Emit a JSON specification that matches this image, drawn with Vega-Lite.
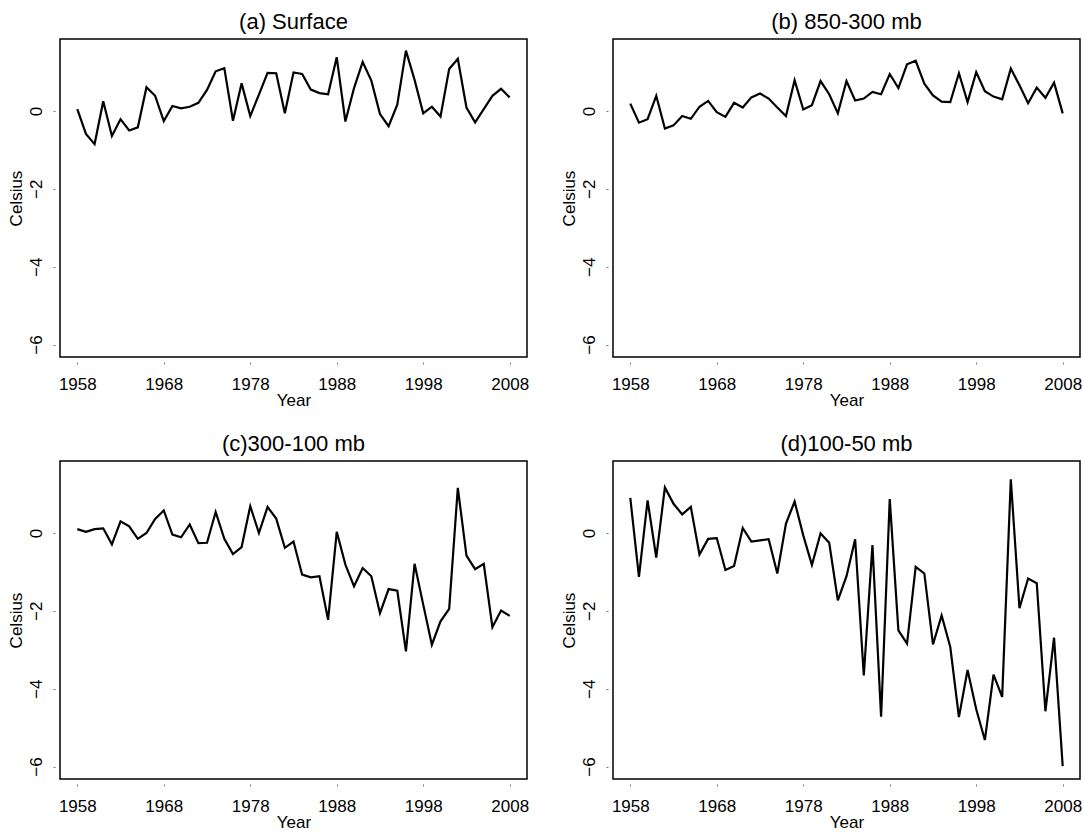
{
  "$schema": "https://vega.github.io/schema/vega-lite/v6.json",
  "background": "white",
  "padding": {"left": 6, "top": 10, "right": 5, "bottom": 5},
  "bounds": "flush",
  "columns": 2,
  "spacing": {"row": 104, "column": 86},
  "config": {
    "font": "Liberation Sans",
    "view": {"stroke": "black", "strokeWidth": 1.5},
    "axis": {"domain": false, "grid": false, "labelFont": "Liberation Sans", "labelFontSize": 17, "labelColor": "black", "titleFont": "Liberation Sans", "titleFontSize": 17, "titleFontWeight": "normal", "titleColor": "black", "tickColor": "#777", "tickSize": 2, "offset": 5},
    "axisX": {"labelPadding": 12, "titlePadding": 0},
    "axisY": {"labelAngle": -90, "labelPadding": 8, "titlePadding": 2},
    "title": {"font": "Liberation Sans", "fontSize": 22, "fontWeight": "normal", "color": "black", "anchor": "middle", "offset": 5, "baseline": "alphabetic"}
  },
  "datasets": {
    "a": [
      {"Year":1958,"Celsius":0.05},{"Year":1959,"Celsius":-0.59},{"Year":1960,"Celsius":-0.85},{"Year":1961,"Celsius":0.25},{"Year":1962,"Celsius":-0.64},{"Year":1963,"Celsius":-0.21},{"Year":1964,"Celsius":-0.50},{"Year":1965,"Celsius":-0.42},{"Year":1966,"Celsius":0.61},{"Year":1967,"Celsius":0.39},
      {"Year":1968,"Celsius":-0.26},{"Year":1969,"Celsius":0.13},{"Year":1970,"Celsius":0.07},{"Year":1971,"Celsius":0.11},{"Year":1972,"Celsius":0.21},{"Year":1973,"Celsius":0.54},{"Year":1974,"Celsius":1.02},{"Year":1975,"Celsius":1.10},{"Year":1976,"Celsius":-0.25},{"Year":1977,"Celsius":0.71},
      {"Year":1978,"Celsius":-0.13},{"Year":1979,"Celsius":0.42},{"Year":1980,"Celsius":0.98},{"Year":1981,"Celsius":0.97},{"Year":1982,"Celsius":-0.06},{"Year":1983,"Celsius":0.99},{"Year":1984,"Celsius":0.95},{"Year":1985,"Celsius":0.55},{"Year":1986,"Celsius":0.46},{"Year":1987,"Celsius":0.43},
      {"Year":1988,"Celsius":1.38},{"Year":1989,"Celsius":-0.27},{"Year":1990,"Celsius":0.59},{"Year":1991,"Celsius":1.26},{"Year":1992,"Celsius":0.78},{"Year":1993,"Celsius":-0.08},{"Year":1994,"Celsius":-0.39},{"Year":1995,"Celsius":0.16},{"Year":1996,"Celsius":1.55},{"Year":1997,"Celsius":0.80},
      {"Year":1998,"Celsius":-0.06},{"Year":1999,"Celsius":0.11},{"Year":2000,"Celsius":-0.14},{"Year":2001,"Celsius":1.08},{"Year":2002,"Celsius":1.34},{"Year":2003,"Celsius":0.09},{"Year":2004,"Celsius":-0.29},{"Year":2005,"Celsius":0.05},{"Year":2006,"Celsius":0.39},{"Year":2007,"Celsius":0.57},
      {"Year":2008,"Celsius":0.35}
    ],
    "b": [
      {"Year":1958,"Celsius":0.19},{"Year":1959,"Celsius":-0.30},{"Year":1960,"Celsius":-0.21},{"Year":1961,"Celsius":0.39},{"Year":1962,"Celsius":-0.45},{"Year":1963,"Celsius":-0.37},{"Year":1964,"Celsius":-0.13},{"Year":1965,"Celsius":-0.20},{"Year":1966,"Celsius":0.11},{"Year":1967,"Celsius":0.26},
      {"Year":1968,"Celsius":-0.03},{"Year":1969,"Celsius":-0.15},{"Year":1970,"Celsius":0.21},{"Year":1971,"Celsius":0.09},{"Year":1972,"Celsius":0.35},{"Year":1973,"Celsius":0.45},{"Year":1974,"Celsius":0.32},{"Year":1975,"Celsius":0.09},{"Year":1976,"Celsius":-0.13},{"Year":1977,"Celsius":0.79},
      {"Year":1978,"Celsius":0.04},{"Year":1979,"Celsius":0.15},{"Year":1980,"Celsius":0.77},{"Year":1981,"Celsius":0.43},{"Year":1982,"Celsius":-0.06},{"Year":1983,"Celsius":0.77},{"Year":1984,"Celsius":0.27},{"Year":1985,"Celsius":0.32},{"Year":1986,"Celsius":0.49},{"Year":1987,"Celsius":0.43},
      {"Year":1988,"Celsius":0.95},{"Year":1989,"Celsius":0.59},{"Year":1990,"Celsius":1.20},{"Year":1991,"Celsius":1.29},{"Year":1992,"Celsius":0.70},{"Year":1993,"Celsius":0.40},{"Year":1994,"Celsius":0.24},{"Year":1995,"Celsius":0.23},{"Year":1996,"Celsius":0.97},{"Year":1997,"Celsius":0.23},
      {"Year":1998,"Celsius":1.00},{"Year":1999,"Celsius":0.51},{"Year":2000,"Celsius":0.37},{"Year":2001,"Celsius":0.30},{"Year":2002,"Celsius":1.09},{"Year":2003,"Celsius":0.66},{"Year":2004,"Celsius":0.20},{"Year":2005,"Celsius":0.60},{"Year":2006,"Celsius":0.34},{"Year":2007,"Celsius":0.73},
      {"Year":2008,"Celsius":-0.06}
    ],
    "c": [
      {"Year":1958,"Celsius":0.10},{"Year":1959,"Celsius":0.03},{"Year":1960,"Celsius":0.10},{"Year":1961,"Celsius":0.12},{"Year":1962,"Celsius":-0.29},{"Year":1963,"Celsius":0.30},{"Year":1964,"Celsius":0.17},{"Year":1965,"Celsius":-0.15},{"Year":1966,"Celsius":0.0},{"Year":1967,"Celsius":0.36},
      {"Year":1968,"Celsius":0.58},{"Year":1969,"Celsius":-0.04},{"Year":1970,"Celsius":-0.11},{"Year":1971,"Celsius":0.22},{"Year":1972,"Celsius":-0.26},{"Year":1973,"Celsius":-0.25},{"Year":1974,"Celsius":0.54},{"Year":1975,"Celsius":-0.15},{"Year":1976,"Celsius":-0.54},{"Year":1977,"Celsius":-0.36},
      {"Year":1978,"Celsius":0.69},{"Year":1979,"Celsius":0.0},{"Year":1980,"Celsius":0.67},{"Year":1981,"Celsius":0.37},{"Year":1982,"Celsius":-0.38},{"Year":1983,"Celsius":-0.22},{"Year":1984,"Celsius":-1.07},{"Year":1985,"Celsius":-1.14},{"Year":1986,"Celsius":-1.11},{"Year":1987,"Celsius":-2.23},
      {"Year":1988,"Celsius":0.03},{"Year":1989,"Celsius":-0.81},{"Year":1990,"Celsius":-1.37},{"Year":1991,"Celsius":-0.90},{"Year":1992,"Celsius":-1.11},{"Year":1993,"Celsius":-2.06},{"Year":1994,"Celsius":-1.44},{"Year":1995,"Celsius":-1.48},{"Year":1996,"Celsius":-3.04},{"Year":1997,"Celsius":-0.79},
      {"Year":1998,"Celsius":-1.84},{"Year":1999,"Celsius":-2.87},{"Year":2000,"Celsius":-2.27},{"Year":2001,"Celsius":-1.95},{"Year":2002,"Celsius":1.16},{"Year":2003,"Celsius":-0.58},{"Year":2004,"Celsius":-0.93},{"Year":2005,"Celsius":-0.79},{"Year":2006,"Celsius":-2.42},{"Year":2007,"Celsius":-1.99},
      {"Year":2008,"Celsius":-2.13}
    ],
    "d": [
      {"Year":1958,"Celsius":0.90},{"Year":1959,"Celsius":-1.13},{"Year":1960,"Celsius":0.84},{"Year":1961,"Celsius":-0.63},{"Year":1962,"Celsius":1.17},{"Year":1963,"Celsius":0.75},{"Year":1964,"Celsius":0.48},{"Year":1965,"Celsius":0.67},{"Year":1966,"Celsius":-0.55},{"Year":1967,"Celsius":-0.15},
      {"Year":1968,"Celsius":-0.13},{"Year":1969,"Celsius":-0.95},{"Year":1970,"Celsius":-0.85},{"Year":1971,"Celsius":0.13},{"Year":1972,"Celsius":-0.22},{"Year":1973,"Celsius":-0.19},{"Year":1974,"Celsius":-0.16},{"Year":1975,"Celsius":-1.04},{"Year":1976,"Celsius":0.24},{"Year":1977,"Celsius":0.81},
      {"Year":1978,"Celsius":-0.06},{"Year":1979,"Celsius":-0.82},{"Year":1980,"Celsius":-0.01},{"Year":1981,"Celsius":-0.25},{"Year":1982,"Celsius":-1.73},{"Year":1983,"Celsius":-1.11},{"Year":1984,"Celsius":-0.16},{"Year":1985,"Celsius":-3.66},{"Year":1986,"Celsius":-0.31},{"Year":1987,"Celsius":-4.72},
      {"Year":1988,"Celsius":0.87},{"Year":1989,"Celsius":-2.50},{"Year":1990,"Celsius":-2.84},{"Year":1991,"Celsius":-0.87},{"Year":1992,"Celsius":-1.04},{"Year":1993,"Celsius":-2.86},{"Year":1994,"Celsius":-2.12},{"Year":1995,"Celsius":-2.93},{"Year":1996,"Celsius":-4.73},{"Year":1997,"Celsius":-3.52},
      {"Year":1998,"Celsius":-4.53},{"Year":1999,"Celsius":-5.32},{"Year":2000,"Celsius":-3.64},{"Year":2001,"Celsius":-4.21},{"Year":2002,"Celsius":1.38},{"Year":2003,"Celsius":-1.93},{"Year":2004,"Celsius":-1.17},{"Year":2005,"Celsius":-1.29},{"Year":2006,"Celsius":-4.58},{"Year":2007,"Celsius":-2.69},
      {"Year":2008,"Celsius":-5.99}
    ]
  },
  "concat": [
    {
      "title": "(a) Surface",
      "width": 467, "height": 318,
      "data": {"name": "a"},
      "mark": {"type": "line", "color": "black", "strokeWidth": 2.2},
      "encoding": {
        "x": {"field": "Year", "type": "quantitative", "scale": {"domain": [1956, 2010], "nice": false, "zero": false}, "axis": {"values": [1958, 1968, 1978, 1988, 1998, 2008], "format": "d", "title": "Year"}},
        "y": {"field": "Celsius", "type": "quantitative", "scale": {"domain": [-6.32, 1.85], "nice": false, "zero": false}, "axis": {"values": [-6, -4, -2, 0], "title": "Celsius"}}
      }
    },
    {
      "title": "(b) 850-300 mb",
      "width": 467, "height": 318,
      "data": {"name": "b"},
      "mark": {"type": "line", "color": "black", "strokeWidth": 2.2},
      "encoding": {
        "x": {"field": "Year", "type": "quantitative", "scale": {"domain": [1956, 2010], "nice": false, "zero": false}, "axis": {"values": [1958, 1968, 1978, 1988, 1998, 2008], "format": "d", "title": "Year"}},
        "y": {"field": "Celsius", "type": "quantitative", "scale": {"domain": [-6.32, 1.85], "nice": false, "zero": false}, "axis": {"values": [-6, -4, -2, 0], "title": "Celsius"}}
      }
    },
    {
      "title": "(c)300-100 mb",
      "width": 467, "height": 318,
      "data": {"name": "c"},
      "mark": {"type": "line", "color": "black", "strokeWidth": 2.2},
      "encoding": {
        "x": {"field": "Year", "type": "quantitative", "scale": {"domain": [1956, 2010], "nice": false, "zero": false}, "axis": {"values": [1958, 1968, 1978, 1988, 1998, 2008], "format": "d", "title": "Year"}},
        "y": {"field": "Celsius", "type": "quantitative", "scale": {"domain": [-6.32, 1.85], "nice": false, "zero": false}, "axis": {"values": [-6, -4, -2, 0], "title": "Celsius"}}
      }
    },
    {
      "title": "(d)100-50 mb",
      "width": 467, "height": 318,
      "data": {"name": "d"},
      "mark": {"type": "line", "color": "black", "strokeWidth": 2.2},
      "encoding": {
        "x": {"field": "Year", "type": "quantitative", "scale": {"domain": [1956, 2010], "nice": false, "zero": false}, "axis": {"values": [1958, 1968, 1978, 1988, 1998, 2008], "format": "d", "title": "Year"}},
        "y": {"field": "Celsius", "type": "quantitative", "scale": {"domain": [-6.32, 1.85], "nice": false, "zero": false}, "axis": {"values": [-6, -4, -2, 0], "title": "Celsius"}}
      }
    }
  ]
}
